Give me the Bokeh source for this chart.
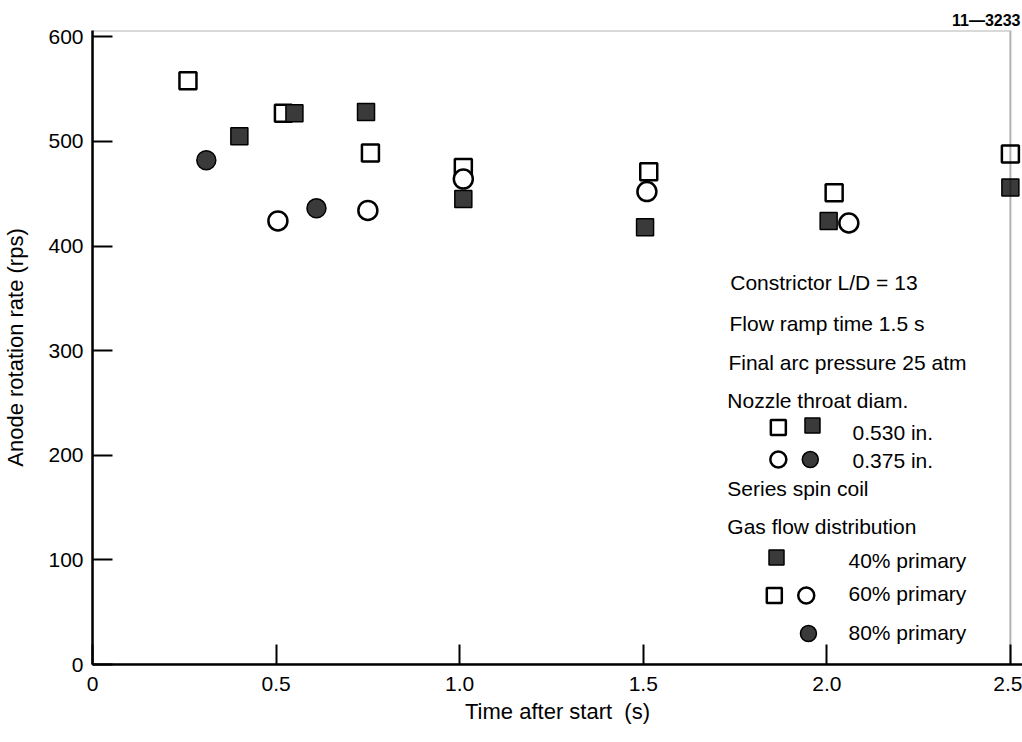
from bokeh.plotting import figure
from bokeh.models import Range1d, FixedTicker, Label, BoxAnnotation
from bokeh.embed import file_html
from bokeh.resources import INLINE

# ---- data ----
open_sq_x = [0.26, 0.52, 0.757, 1.01, 1.515, 2.02, 2.5]
open_sq_y = [558, 527, 489, 475, 471, 451, 488]

filled_sq_x = [0.40, 0.55, 0.745, 1.01, 1.505, 2.005, 2.5]
filled_sq_y = [505, 527, 528, 445, 418, 424, 456]

open_ci_x = [0.505, 0.75, 1.01, 1.51, 2.06]
open_ci_y = [424, 434, 464, 452, 422]

filled_ci_x = [0.31, 0.61]
filled_ci_y = [482, 436]

x_ticks = [0, 0.5, 1.0, 1.5, 2.0, 2.5]
x_tick_labels = ["0", "0.5", "1.0", "1.5", "2.0", "2.5"]
y_ticks = [0, 100, 200, 300, 400, 500, 600]

notes = [
    "Constrictor L/D = 13",
    "Flow ramp time 1.5 s",
    "Final arc pressure 25 atm",
    "Nozzle throat diam.",
    "0.530 in.",
    "0.375 in.",
    "Series spin coil",
    "Gas flow distribution",
    "40% primary",
    "60% primary",
    "80% primary",
]

FONT = "Liberation Sans"
DARK = "#3a3a3a"
YTOP = 606

p = figure(width=1022, height=742, output_backend="svg", toolbar_location=None,
           x_range=Range1d(0, 2.533), y_range=Range1d(0, YTOP),
           min_border_left=92, min_border_right=0, min_border_top=30,
           min_border_bottom=78)
p.grid.visible = False
p.outline_line_color = None
p.background_fill_color = "white"
p.border_fill_color = "white"

p.title.text = "11\u20143233"
p.title.align = "right"
p.title.text_font = FONT
p.title.text_font_size = "16px"
p.title.text_font_style = "bold"
p.title.text_color = "black"
p.title.standoff = 4
p.title.offset = 2

for ax in (p.xaxis[0], p.yaxis[0]):
    ax.axis_line_width = 2.5
    ax.axis_line_color = "black"
    ax.major_tick_in = 20
    ax.major_tick_out = 0
    ax.major_tick_line_width = 2
    ax.major_tick_line_color = "black"
    ax.minor_tick_line_color = None
    ax.major_label_text_font = FONT
    ax.major_label_text_font_size = "21px"
    ax.major_label_text_color = "black"
    ax.axis_label_text_font = FONT
    ax.axis_label_text_font_size = "22px"
    ax.axis_label_text_font_style = "normal"
    ax.axis_label_text_color = "black"

p.xaxis.ticker = FixedTicker(ticks=x_ticks)
p.xaxis.major_label_overrides = {t: l for t, l in zip(x_ticks, x_tick_labels)}
p.xaxis.major_label_standoff = 12
p.xaxis.axis_label = "Time after start\u00a0 (s)"
p.xaxis.axis_label_standoff = 5

p.yaxis.ticker = FixedTicker(ticks=y_ticks)
p.yaxis.major_label_standoff = 9
p.yaxis.axis_label = "Anode rotation rate (rps)"
p.yaxis.axis_label_standoff = 17

# frame (top and right border)
p.add_layout(BoxAnnotation(left=0, right=2.5, bottom=0, top=YTOP,
                           fill_alpha=0, line_color="black", line_width=2))

# data
p.scatter(open_sq_x, open_sq_y, marker="square", size=17, fill_color="white",
          line_color="black", line_width=2.5)
p.scatter(filled_sq_x, filled_sq_y, marker="square", size=17, fill_color=DARK,
          line_color="black", line_width=1.5)
p.scatter(open_ci_x, open_ci_y, marker="circle", size=19, fill_color="white",
          line_color="black", line_width=2.5)
p.scatter(filled_ci_x, filled_ci_y, marker="circle", size=19, fill_color=DARK,
          line_color="black", line_width=1.5)

# annotation block (layout positions)
note_x = [1.737, 1.735, 1.732, 1.729, 2.070, 2.070, 1.729, 1.729, 2.059, 2.059, 2.059]
note_y = [365.1, 325.9, 288.7, 252.3, 221.8, 195.0, 168.2, 131.9, 99.4, 67.9, 30.6]
for t, xx, yy in zip(notes, note_x, note_y):
    p.add_layout(Label(x=xx, y=yy, text=t, text_font=FONT, text_font_size="21px",
                       text_baseline="middle", text_align="left", text_color="black"))

# legend keys
key_osq = ([1.868, 1.857], [226.5, 66.0])
key_fsq = ([1.961, 1.863], [228.4, 102.3])
key_oci = ([1.868, 1.944], [195.9, 66.0])
key_fci = ([1.955, 1.950], [195.9, 29.6])
p.scatter(*key_osq, marker="square", size=15, fill_color="white", line_color="black", line_width=2.5)
p.scatter(*key_fsq, marker="square", size=15, fill_color=DARK, line_color="black", line_width=1.5)
p.scatter(*key_oci, marker="circle", size=16, fill_color="white", line_color="black", line_width=2.5)
p.scatter(*key_fci, marker="circle", size=16, fill_color=DARK, line_color="black", line_width=1.5)

open("out.html", "w").write(file_html(p, INLINE))
